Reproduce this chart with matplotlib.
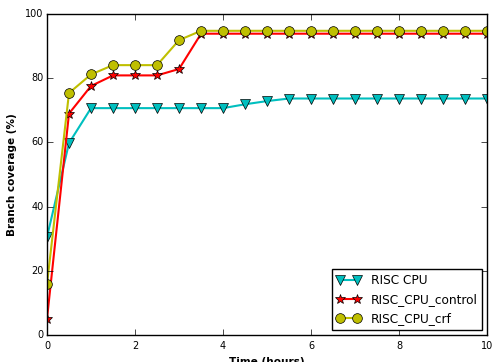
import matplotlib
matplotlib.use('Agg')
import matplotlib.pyplot as plt

plt.style.use('classic')

hours = [0, 0.5, 1, 1.5, 2, 2.5, 3, 3.5, 4, 4.5, 5, 5.5, 6, 6.5, 7, 7.5, 8, 8.5, 9, 9.5, 10]
risc_cpu = [30.5, 59.8, 70.7, 70.7, 70.7, 70.7, 70.7, 70.7, 70.7, 71.9, 72.9, 73.7,
            73.7, 73.7, 73.7, 73.7, 73.7, 73.7, 73.7, 73.7, 73.7]
risc_control = [5, 69, 77.6, 80.9, 80.9, 80.9, 82.9, 93.9, 93.9, 93.9, 93.9, 93.9,
                93.9, 93.9, 93.9, 93.9, 93.9, 93.9, 93.9, 93.9, 93.9]
risc_crf = [15.8, 75.4, 81.2, 84.1, 84.1, 84.1, 91.9, 94.8, 94.8, 94.8, 94.8, 94.8,
            94.8, 94.8, 94.8, 94.8, 94.8, 94.8, 94.8, 94.8, 94.8]

fig = plt.figure(figsize=(4.93, 3.62), dpi=100, facecolor='white')
ax = fig.add_axes([0.0953, 0.0746, 0.893, 0.8864])
ax.set_facecolor('white')

ax.plot(hours, risc_cpu, 'c-v', lw=1.5, ms=7, mec='k', label='RISC CPU')
ax.plot(hours, risc_control, 'r-*', lw=1.5, ms=7, mec='k', label='RISC_CPU_control')
ax.plot(hours, risc_crf, 'y-o', lw=1.5, ms=7, mec='k', label='RISC_CPU_crf')

ax.set_xlim(0, 10)
ax.set_ylim(0, 100)
ax.tick_params(labelsize=7)
ax.tick_params(axis='y', pad=2.5)
ax.tick_params(axis='x', pad=4)
ax.set_xlabel('Time (hours)', fontsize=7.6, fontweight='bold')
ax.set_ylabel('Branch coverage (%)', fontsize=7.5, fontweight='bold', labelpad=6)
ax.legend(loc='lower right', fontsize=8.7, numpoints=2, borderaxespad=0.4)

fig.savefig('out.png', dpi=100, facecolor='white')
